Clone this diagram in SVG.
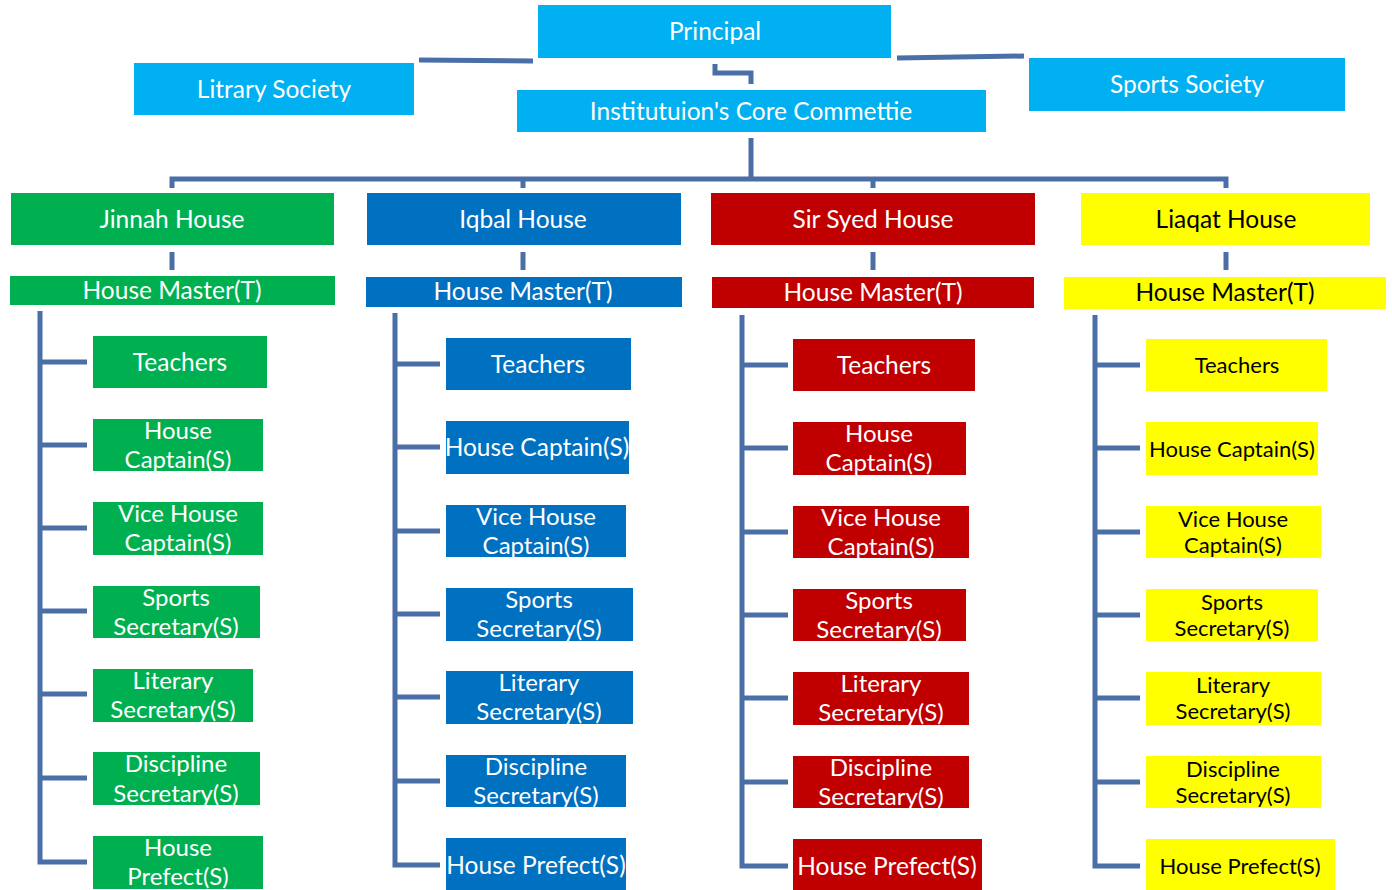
<svg xmlns="http://www.w3.org/2000/svg" width="1392" height="890" viewBox="0 0 1392 890">
<style>
text{font-family:Lato,"Open Sans","Liberation Sans",sans-serif;text-anchor:middle;}
.w{fill:#ffffff}
.k{fill:#000000}
.t{font-size:24.5px}
.s{font-size:24px}
.y{font-size:22px}
.cy{fill:#00b0f0}
.g{fill:#00b050}
.b{fill:#0070c0}
.r{fill:#c00000}
.yl{fill:#ffff00}
.ln{stroke:#4a6ea6;stroke-width:5;fill:none;stroke-linejoin:miter}
</style>
<g id="connectors" class="ln">
<path d="M419 60 L533 61"/>
<path d="M897 58 L1024 56"/>
<path d="M715 64 V73 H751 V84"/>
<path d="M751 138 V180"/>
<path d="M172 188 V179 H1226 V188"/>
<path d="M523 179 V188"/>
<path d="M873 179 V188"/>
<path d="M172 252 V270"/><path d="M523 252 V270"/><path d="M873 252 V270"/><path d="M1226 252 V270"/>
<path d="M40 311 V862 H87"/>
<path d="M40 362 H87 M40 445 H87 M40 528 H87 M40 611 H87 M40 694 H87 M40 778 H87"/>
<path d="M395 313 V865 H440"/>
<path d="M395 364 H440 M395 447 H440 M395 531 H440 M395 614 H440 M395 697 H440 M395 781 H440"/>
<path d="M742 315 V866 H788"/>
<path d="M742 365 H788 M742 448 H788 M742 532 H788 M742 615 H788 M742 698 H788 M742 782 H788"/>
<path d="M1095 315 V866 H1140"/>
<path d="M1095 365 H1140 M1095 448 H1140 M1095 532 H1140 M1095 615 H1140 M1095 698 H1140 M1095 782 H1140"/>
</g>
<g id="principal"><rect class="cy" x="538" y="5" width="353" height="53"/><text class="w t" x="715" y="40">Principal</text></g>
<g id="litrary-society"><rect class="cy" x="134" y="63" width="280" height="52"/><text class="w t" x="274" y="98">Litrary Society</text></g>
<g id="core-committee"><rect class="cy" x="517" y="90" width="469" height="42"/><text class="w t" x="751" y="120">Institutuion's Core Commettie</text></g>
<g id="sports-society"><rect class="cy" x="1029" y="58" width="316" height="53"/><text class="w t" x="1187" y="93">Sports Society</text></g>

<g id="jinnah-house"><rect class="g" x="11" y="193" width="323" height="52"/><text class="w t" x="172" y="228">Jinnah House</text></g>
<g id="iqbal-house"><rect class="b" x="367" y="193" width="314" height="52"/><text class="w t" x="523" y="228">Iqbal House</text></g>
<g id="sir-syed-house"><rect class="r" x="711" y="193" width="324" height="52"/><text class="w t" x="873" y="228">Sir Syed House</text></g>
<g id="liaqat-house"><rect class="yl" x="1081" y="193" width="289" height="52"/><text class="k t" x="1226" y="228">Liaqat House</text></g>

<g id="jinnah-hm"><rect class="g" x="10" y="276" width="325" height="29"/><text class="w t" x="172" y="299">House Master(T)</text></g>
<g id="iqbal-hm"><rect class="b" x="366" y="277" width="316" height="30"/><text class="w t" x="523" y="300">House Master(T)</text></g>
<g id="sir-syed-hm"><rect class="r" x="712" y="277" width="322" height="31"/><text class="w t" x="873" y="301">House Master(T)</text></g>
<g id="liaqat-hm"><rect class="yl" x="1064" y="277" width="322" height="32"/><text class="k t" x="1225" y="301">House Master(T)</text></g>

<!-- Jinnah children -->
<g id="j-teachers"><rect class="g" x="93" y="336" width="174" height="52"/><text class="w t" x="180" y="371">Teachers</text></g>
<g id="j-captain"><rect class="g" x="93" y="419" width="170" height="52"/><text class="w s" x="178" y="439">House</text><text class="w s" x="178" y="468">Captain(S)</text></g>
<g id="j-vice"><rect class="g" x="93" y="502" width="170" height="53"/><text class="w s" x="178" y="522">Vice House</text><text class="w s" x="178" y="551">Captain(S)</text></g>
<g id="j-sports"><rect class="g" x="93" y="586" width="167" height="52"/><text class="w s" x="176" y="606">Sports</text><text class="w s" x="176" y="635">Secretary(S)</text></g>
<g id="j-literary"><rect class="g" x="93" y="669" width="160" height="53"/><text class="w s" x="173" y="689">Literary</text><text class="w s" x="173" y="718">Secretary(S)</text></g>
<g id="j-discipline"><rect class="g" x="93" y="752" width="167" height="53"/><text class="w s" x="176" y="772">Discipline</text><text class="w s" x="176" y="802">Secretary(S)</text></g>
<g id="j-prefect"><rect class="g" x="93" y="836" width="170" height="53"/><text class="w s" x="178" y="856">House</text><text class="w s" x="178" y="885">Prefect(S)</text></g>

<!-- Iqbal children -->
<g id="i-teachers"><rect class="b" x="446" y="338" width="185" height="52"/><text class="w t" x="538" y="373">Teachers</text></g>
<g id="i-captain"><rect class="b" x="446" y="421" width="183" height="53"/><text class="w t" x="537" y="456">House Captain(S)</text></g>
<g id="i-vice"><rect class="b" x="446" y="505" width="180" height="52"/><text class="w s" x="536" y="525">Vice House</text><text class="w s" x="536" y="554">Captain(S)</text></g>
<g id="i-sports"><rect class="b" x="446" y="588" width="187" height="53"/><text class="w s" x="539" y="608">Sports</text><text class="w s" x="539" y="637">Secretary(S)</text></g>
<g id="i-literary"><rect class="b" x="446" y="671" width="187" height="53"/><text class="w s" x="539" y="691">Literary</text><text class="w s" x="539" y="720">Secretary(S)</text></g>
<g id="i-discipline"><rect class="b" x="446" y="755" width="180" height="52"/><text class="w s" x="536" y="775">Discipline</text><text class="w s" x="536" y="804">Secretary(S)</text></g>
<g id="i-prefect"><rect class="b" x="446" y="838" width="180" height="52"/><text class="w t" x="536" y="874">House Prefect(S)</text></g>

<!-- Sir Syed children -->
<g id="s-teachers"><rect class="r" x="793" y="339" width="182" height="52"/><text class="w t" x="884" y="374">Teachers</text></g>
<g id="s-captain"><rect class="r" x="793" y="422" width="173" height="53"/><text class="w s" x="879" y="442">House</text><text class="w s" x="879" y="471">Captain(S)</text></g>
<g id="s-vice"><rect class="r" x="793" y="506" width="176" height="52"/><text class="w s" x="881" y="526">Vice House</text><text class="w s" x="881" y="555">Captain(S)</text></g>
<g id="s-sports"><rect class="r" x="793" y="589" width="173" height="52"/><text class="w s" x="879" y="609">Sports</text><text class="w s" x="879" y="638">Secretary(S)</text></g>
<g id="s-literary"><rect class="r" x="793" y="672" width="176" height="53"/><text class="w s" x="881" y="692">Literary</text><text class="w s" x="881" y="721">Secretary(S)</text></g>
<g id="s-discipline"><rect class="r" x="793" y="756" width="176" height="52"/><text class="w s" x="881" y="776">Discipline</text><text class="w s" x="881" y="805">Secretary(S)</text></g>
<g id="s-prefect"><rect class="r" x="793" y="839" width="189" height="51"/><text class="w t" x="887" y="875">House Prefect(S)</text></g>

<!-- Liaqat children -->
<g id="l-teachers"><rect class="yl" x="1146" y="339" width="181" height="52"/><text class="k y" x="1237" y="373">Teachers</text></g>
<g id="l-captain"><rect class="yl" x="1146" y="422" width="172" height="53"/><text class="k y" x="1232" y="457">House Captain(S)</text></g>
<g id="l-vice"><rect class="yl" x="1146" y="506" width="175" height="52"/><text class="k y" x="1233" y="527">Vice House</text><text class="k y" x="1233" y="553">Captain(S)</text></g>
<g id="l-sports"><rect class="yl" x="1146" y="589" width="172" height="52"/><text class="k y" x="1232" y="610">Sports</text><text class="k y" x="1232" y="636">Secretary(S)</text></g>
<g id="l-literary"><rect class="yl" x="1146" y="672" width="175" height="53"/><text class="k y" x="1233" y="693">Literary</text><text class="k y" x="1233" y="719">Secretary(S)</text></g>
<g id="l-discipline"><rect class="yl" x="1146" y="756" width="175" height="52"/><text class="k y" x="1233" y="777">Discipline</text><text class="k y" x="1233" y="803">Secretary(S)</text></g>
<g id="l-prefect"><rect class="yl" x="1146" y="839" width="189" height="51"/><text class="k y" x="1240" y="874">House Prefect(S)</text></g>
</svg>
